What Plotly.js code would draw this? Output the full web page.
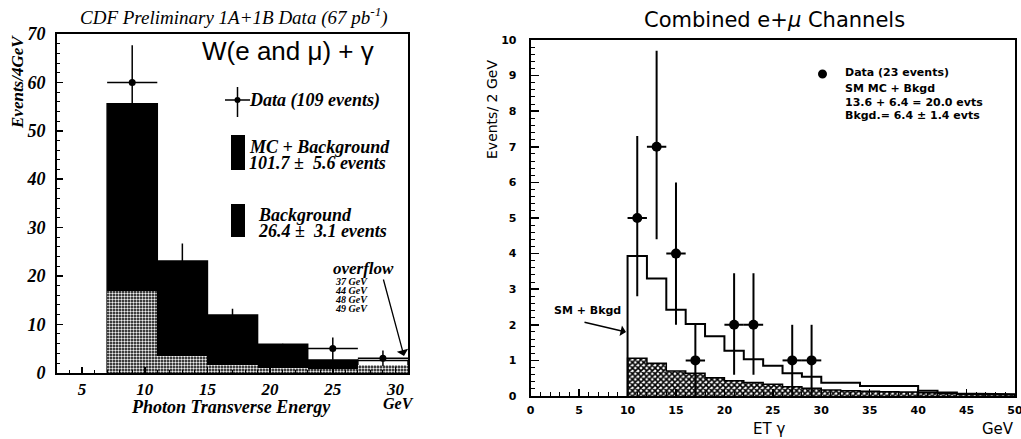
<!DOCTYPE html>
<html>
<head>
<meta charset="utf-8">
<script src="https://cdn.plot.ly/plotly-3.0.1.min.js"></script>
<style>
  html, body { margin: 0; padding: 0; background: #fff; }
  #chart { width: 1021px; height: 439px; }
</style>
</head>
<body>
<div id="chart"></div>
<script>
// ---- Left panel: CDF W(e and mu) + gamma, 4 GeV bins ----
const leftBinCenters = [9, 13, 17, 21, 25, 29];
const leftMcPlusBkg = [55.6, 23.1, 11.9, 5.9, 2.6, 2.5];
const leftBackground = [16.9, 3.4, 1.6, 1.0, 0.8, 1.5];
const leftData = [60, 22, 10, 4, 5, 3];
const leftDataErr = [7.7, 4.7, 3.2, 2.0, 2.3, 1.6];
const leftXTicks = [5, 10, 15, 20, 25, 30];
const leftYTicks = [0, 10, 20, 30, 40, 50, 60, 70];
const overflowEnergies = ['37 GeV', '44 GeV', '48 GeV', '49 GeV'];

// ---- Right panel: combined e + mu channels, 2 GeV bins ----
const rightBinCenters = [11, 13, 15, 17, 19, 21, 23, 25, 27, 29, 31, 33, 35, 37, 39, 41, 43, 45, 47, 49];
const smMcPlusBkgd = [3.93, 3.30, 2.42, 2.02, 1.68, 1.27, 1.03, 0.85, 0.64, 0.54, 0.37, 0.37, 0.28, 0.28, 0.28, 0.15, 0.10, 0.07, 0.05, 0.05];
const bkgdOnly = [1.06, 0.92, 0.70, 0.64, 0.51, 0.43, 0.38, 0.33, 0.26, 0.22, 0.17, 0.15, 0.13, 0.12, 0.11, 0.09, 0.07, 0.05, 0.04, 0.04];
const rightDataX = [11, 13, 15, 17, 21, 23, 27, 29];
const rightDataY = [5, 7, 4, 1, 2, 2, 1, 1];
const rightErrUp = [2.3, 2.7, 2.0, 1.0, 1.45, 1.45, 1.0, 1.0];
const rightErrDown = [2.2, 2.6, 2.0, 1.0, 1.4, 1.4, 1.0, 1.0];
const rightXTicks = [0, 5, 10, 15, 20, 25, 30, 35, 40, 45, 50];
const rightYTicks = [0, 1, 2, 3, 4, 5, 6, 7, 8, 9, 10];

const W = 1021, H = 439;
const px = v => v / W;
const py = v => 1 - v / H;

const SERIF = 'Liberation Serif, DejaVu Serif, serif';
const SANS = 'DejaVu Sans, Liberation Sans, sans-serif';

// step outline of a histogram given its bin centres and a fixed bin width
function stepOutline(centers, values, width) {
  const xs = [centers[0] - width / 2], ys = [0];
  centers.forEach((c, i) => {
    xs.push(c - width / 2, c + width / 2);
    ys.push(values[i], values[i]);
  });
  xs.push(centers[centers.length - 1] + width / 2);
  ys.push(0);
  return { xs, ys };
}

const smStep = stepOutline(rightBinCenters, smMcPlusBkgd, 2);
const bkgStep = stepOutline(rightBinCenters, bkgdOnly, 2);

const traces = [
  // left: MC + background (solid black, last bin open)
  {
    type: 'bar', x: leftBinCenters, y: leftMcPlusBkg, width: 4,
    xaxis: 'x', yaxis: 'y',
    marker: {
      color: leftMcPlusBkg.map((v, i) => i === leftMcPlusBkg.length - 1 ? '#fff' : '#000'),
      line: { color: '#000', width: 1.5 }
    },
    showlegend: false, hoverinfo: 'skip'
  },
  // left: background (grainy fill)
  {
    type: 'bar', x: leftBinCenters, y: leftBackground, width: 4,
    xaxis: 'x', yaxis: 'y',
    marker: {
      color: '#000',
      line: { color: '#000', width: 0 },
      pattern: { shape: '.', fgcolor: '#f0f0f0', bgcolor: '#000', size: 3, solidity: 0.5 }
    },
    showlegend: false, hoverinfo: 'skip'
  },
  // left: data
  {
    type: 'scatter', mode: 'markers', x: leftBinCenters, y: leftData,
    xaxis: 'x', yaxis: 'y',
    marker: { color: '#000', size: 7, symbol: 'circle' },
    error_y: { type: 'data', array: leftDataErr, color: '#000', thickness: 1.5, width: 0 },
    error_x: { type: 'constant', value: 2, color: '#000', thickness: 1.5, width: 0 },
    showlegend: false, hoverinfo: 'skip'
  },
  // right: background (cross-hatched)
  {
    type: 'bar', x: rightBinCenters, y: bkgdOnly, width: 2,
    xaxis: 'x2', yaxis: 'y2',
    marker: {
      color: '#fff',
      line: { width: 0 },
      pattern: { shape: 'x', fgcolor: '#000', bgcolor: '#fff', size: 4, solidity: 0.65 }
    },
    showlegend: false, hoverinfo: 'skip'
  },
  {
    type: 'scatter', mode: 'lines', x: bkgStep.xs, y: bkgStep.ys,
    xaxis: 'x2', yaxis: 'y2',
    line: { color: '#000', width: 1.5 },
    showlegend: false, hoverinfo: 'skip'
  },
  // right: SM MC + background outline
  {
    type: 'scatter', mode: 'lines', x: smStep.xs, y: smStep.ys,
    xaxis: 'x2', yaxis: 'y2',
    line: { color: '#000', width: 2 },
    showlegend: false, hoverinfo: 'skip'
  },
  // right: data
  {
    type: 'scatter', mode: 'markers', x: rightDataX, y: rightDataY,
    xaxis: 'x2', yaxis: 'y2',
    marker: { color: '#000', size: 10, symbol: 'circle' },
    error_y: { type: 'data', symmetric: false, array: rightErrUp, arrayminus: rightErrDown, color: '#000', thickness: 2, width: 0 },
    error_x: { type: 'constant', value: 1, color: '#000', thickness: 2, width: 0 },
    showlegend: false, hoverinfo: 'skip'
  }
];

const leftTickFont = { family: SERIF, size: 18, color: '#000', weight: 'bold', style: 'italic' };
const leftXTickFont = { family: SERIF, size: 17, color: '#000', weight: 'bold', style: 'italic' };
const rightTickFont = { family: SANS, size: 11, color: '#000', weight: 'bold' };

// text placed at pixel positions, anchored explicitly
function label(x, y, text, font, extra) {
  return Object.assign({
    xref: 'paper', yref: 'paper', x: px(x), y: py(y), text: text, showarrow: false,
    xanchor: 'center', yanchor: 'middle', font: Object.assign({ color: '#000' }, font)
  }, extra || {});
}
const serifBI = size => ({ family: SERIF, size: size, style: 'italic', weight: 'bold' });
const sansB = size => ({ family: SANS, size: size, weight: 'bold' });

const layout = {
  width: W, height: H,
  margin: { l: 0, r: 0, t: 0, b: 0 },
  paper_bgcolor: '#fff', plot_bgcolor: '#fff',
  barmode: 'overlay', bargap: 0,
  showlegend: false,
  xaxis: {
    domain: [px(57), px(408)], range: [3, 31], anchor: 'y',
    tickmode: 'array', tickvals: leftXTicks, ticktext: leftXTicks.map(String),
    ticks: 'inside', ticklen: 6, tickwidth: 1.5, tickcolor: '#000',
    minor: { dtick: 1, ticks: 'inside', ticklen: 3, tickcolor: '#000', tickwidth: 1 },
    showline: true, linecolor: '#000', linewidth: 2, mirror: true,
    showgrid: false, zeroline: false, tickfont: leftXTickFont, ticklabelstandoff: 0
  },
  yaxis: {
    domain: [py(372.7), py(34)], range: [0, 70], anchor: 'x',
    tickmode: 'array', tickvals: leftYTicks, ticktext: leftYTicks.map(String),
    ticks: 'inside', ticklen: 6, tickwidth: 1.5, tickcolor: '#000',
    minor: { dtick: 2, ticks: 'inside', ticklen: 3, tickcolor: '#000', tickwidth: 1 },
    showline: true, linecolor: '#000', linewidth: 2, mirror: true,
    showgrid: false, zeroline: false, tickfont: leftTickFont, ticklabelstandoff: 6
  },
  xaxis2: {
    domain: [px(530.7), px(1015)], range: [0, 50], anchor: 'y2',
    tickmode: 'array', tickvals: rightXTicks, ticktext: rightXTicks.map(String),
    ticks: 'inside', ticklen: 7, tickwidth: 1.5, tickcolor: '#000',
    minor: { dtick: 1, ticks: 'inside', ticklen: 4, tickcolor: '#000', tickwidth: 1 },
    showline: true, linecolor: '#000', linewidth: 2, mirror: true,
    showgrid: false, zeroline: false, tickfont: rightTickFont, ticklabelstandoff: 3,
    ticklabeloverflow: 'allow'
  },
  yaxis2: {
    domain: [py(396), py(40)], range: [0, 10], anchor: 'x2',
    tickmode: 'array', tickvals: rightYTicks, ticktext: rightYTicks.map(String),
    ticks: 'inside', ticklen: 8, tickwidth: 1.5, tickcolor: '#000',
    minor: { dtick: 0.2, ticks: 'inside', ticklen: 4, tickcolor: '#000', tickwidth: 1 },
    showline: true, linecolor: '#000', linewidth: 2, mirror: true,
    showgrid: false, zeroline: false, tickfont: rightTickFont, ticklabelstandoff: 10
  },
  shapes: [
    // left legend: data cross
    { type: 'line', xref: 'paper', yref: 'paper', x0: px(225), x1: px(250), y0: py(100), y1: py(100), line: { color: '#000', width: 1.5 } },
    { type: 'line', xref: 'paper', yref: 'paper', x0: px(237.5), x1: px(237.5), y0: py(87), y1: py(117), line: { color: '#000', width: 1.5 } },
    { type: 'circle', xref: 'paper', yref: 'paper', x0: px(234.5), x1: px(240.5), y0: py(97), y1: py(103), fillcolor: '#000', line: { color: '#000', width: 0 } },
    // left legend: MC + background box
    { type: 'rect', xref: 'paper', yref: 'paper', x0: px(231), x1: px(245), y0: py(170), y1: py(135), fillcolor: '#000', line: { width: 0 } },
    // left legend: background box
    { type: 'rect', xref: 'paper', yref: 'paper', x0: px(231), x1: px(245), y0: py(237), y1: py(204), fillcolor: '#000', line: { width: 0 } },
    // right legend: data dot
    { type: 'circle', xref: 'paper', yref: 'paper', x0: px(818), x1: px(827), y0: py(78.5), y1: py(69.5), fillcolor: '#000', line: { width: 0 } }
  ],
  annotations: [
    // left panel texts
    label(234, 17, 'CDF Preliminary 1A+1B Data (67 pb<sup>-1</sup>)', { family: SERIF, size: 19, style: 'italic' }),
    label(17, 82, 'Events/4GeV', serifBI(17), { textangle: -90 }),
    label(231, 407, 'Photon Transverse Energy', serifBI(18)),
    label(398, 403, 'GeV', serifBI(16)),
    label(288, 51, 'W(e and μ) + γ', { family: 'Liberation Sans, Arial, sans-serif', size: 26 }),
    label(247, 100, 'Data (109 events)', serifBI(18), { xanchor: 'left' }),
    label(247, 147, 'MC + Background', serifBI(18), { xanchor: 'left' }),
    label(247, 163, '101.7 ±  5.6 events', serifBI(18), { xanchor: 'left' }),
    label(256, 215, 'Background', serifBI(18), { xanchor: 'left' }),
    label(256, 231, '26.4 ±  3.1 events', serifBI(18), { xanchor: 'left' }),
    label(331, 268, 'overflow', serifBI(17), { xanchor: 'left' }),
    ...overflowEnergies.map((t, i) => label(333, 281 + i * 9, t, serifBI(10), { xanchor: 'left' })),
    { xref: 'paper', yref: 'paper', ax: px(383), ay: py(278), axref: 'paper', ayref: 'paper',
      x: px(404), y: py(356), text: '', showarrow: true, arrowhead: 1, arrowsize: 1.5, arrowwidth: 1.3, arrowcolor: '#000' },

    // right panel texts
    label(774, 20, 'Combined e+<i>μ</i> Channels', { family: SANS, size: 21 }),
    label(492, 110, 'Events/ 2 GeV', { family: SANS, size: 14 }, { textangle: -90 }),
    label(769, 429, 'ET γ', { family: SANS, size: 15 }),
    label(998, 429, 'GeV', { family: SANS, size: 15 }),
    label(843, 73, 'Data (23 events)', sansB(11), { xanchor: 'left' }),
    label(843, 88, 'SM MC + Bkgd', sansB(11), { xanchor: 'left' }),
    label(843, 102, '13.6 + 6.4 = 20.0 evts', sansB(11), { xanchor: 'left' }),
    label(843, 116, 'Bkgd.= 6.4 ± 1.4 evts', sansB(11), { xanchor: 'left' }),
    label(587, 310, 'SM + Bkgd', sansB(11)),
    { xref: 'paper', yref: 'paper', ax: px(583), ay: py(322), axref: 'paper', ayref: 'paper',
      x: px(626), y: py(332), text: '', showarrow: true, arrowhead: 1, arrowsize: 1.2, arrowwidth: 1.5, arrowcolor: '#000' }
  ]
};

Plotly.newPlot('chart', traces, layout, { displayModeBar: false, staticPlot: true });
</script>
</body>
</html>
